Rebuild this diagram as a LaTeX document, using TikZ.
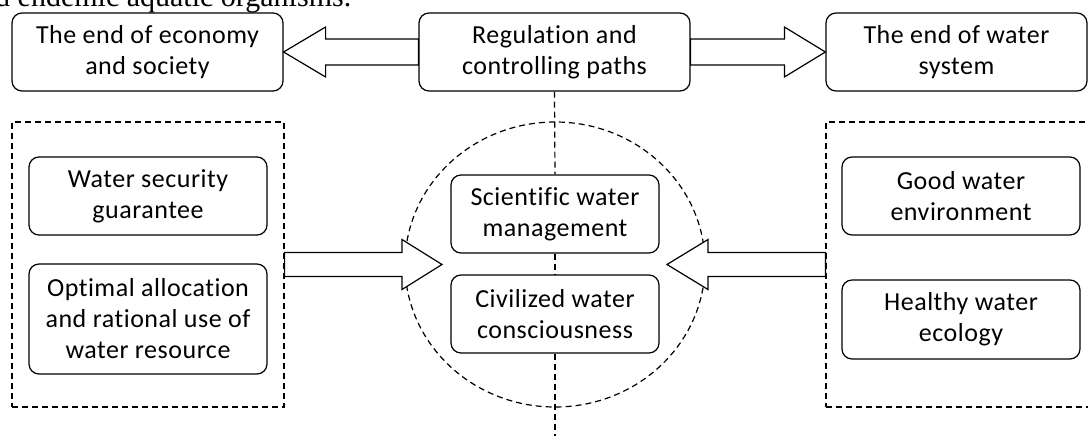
\documentclass[tikz,border=0pt]{standalone}
\usepackage{fontspec}
\setmainfont{Carlito}[Ligatures=NoCommon, LetterSpace=2]
\newfontfamily\docserif{Liberation Serif}
\usetikzlibrary{calc}
\begin{document}
\begin{tikzpicture}[x=1pt,y=-1pt,
  rbox/.style={draw, line width=1.2pt, rounded corners=10pt, align=center,
    inner sep=0pt, font=\fontsize{26}{31}\selectfont},
  dashline/.style={line width=1.2pt, dash pattern=on 6pt off 4pt},
  fat/.style={draw, line width=1.2pt, fill=white, line join=miter}]
\useasboundingbox (0,0) rectangle (1088,436);
\clip (0,0) rectangle (1088,436);
\fill[white] (0,0) rectangle (1088,436);

% clipped document text above the figure
\node[anchor=base west, inner sep=0pt, font=\docserif\fontsize{30}{34}\selectfont] (doctext) at (-5,7) {d endemic aquatic organisms.};

% top row
\node[rbox, minimum width=271pt, minimum height=78pt] (lbox) at (147.5,52) {The end of economy\\and society};
\node[rbox, minimum width=271pt, minimum height=78pt] (cbox) at (554.5,52) {Regulation and\\controlling paths};
\node[rbox, minimum width=261pt, minimum height=78pt] (rbox) at (956.5,52) {The end of water\\system};

% dashed groups
\node[draw, dashline, minimum width=272pt, minimum height=285pt, inner sep=0pt] (ldash) at (148,264.5) {};
\node[draw, dashline, minimum width=272pt, minimum height=285pt, inner sep=0pt] (rdash) at (962,264.5) {};

% dashed ellipse
\draw[dashline] (555,264.5) ellipse [x radius=150pt, y radius=142.5pt];

% left inner boxes
\node[rbox, minimum width=238pt, minimum height=78pt] (w1) at (148,196) {Water security\\guarantee};
\node[rbox, minimum width=238pt, minimum height=110pt] (w2) at (148,319) {Optimal allocation\\and rational use of\\water resource};

% right inner boxes
\node[rbox, minimum width=238pt, minimum height=78pt] (r1) at (961,196) {Good water\\environment};
\node[rbox, minimum width=238pt, minimum height=79pt] (r2) at (961,319.5) {Healthy water\\ecology};

% centre boxes
\node[rbox, minimum width=208pt, minimum height=78pt] (s1) at (555,214) {Scientific water\\management};
\node[rbox, minimum width=208pt, minimum height=78pt] (s2) at (555,314) {Civilized water\\consciousness};

% vertical dashed axis
\coordinate (axisend) at (555,440);
\draw[dashline] (cbox.south) -- (s1.north);
\draw[dashline] (s1.south) -- (s2.north);
\draw[dashline] (s2.south) -- (axisend);

% top fat arrows
\draw[fat] let \p1=(cbox.west), \p2=(lbox.east) in
  (\x1,\y1+13pt) -- (\x2+42pt,\y1+13pt) -- (\x2+42pt,\y1+25pt) -- (\x2,\y1)
  -- (\x2+42pt,\y1-25pt) -- (\x2+42pt,\y1-13pt) -- (\x1,\y1-13pt) -- cycle;
\draw[fat] let \p1=(cbox.east), \p2=(rbox.west) in
  (\x1,\y1+13pt) -- (\x2-41pt,\y1+13pt) -- (\x2-41pt,\y1+25pt) -- (\x2,\y1)
  -- (\x2-41pt,\y1-25pt) -- (\x2-41pt,\y1-13pt) -- (\x1,\y1-13pt) -- cycle;

% middle fat arrows
\coordinate (ltip) at (442,264.5);
\coordinate (rtip) at (667,264.5);
\draw[fat] let \p1=(ldash.east), \p2=(ltip) in
  (\x1,\y1+12pt) -- (\x2-40pt,\y1+12pt) -- (\x2-40pt,\y1+25pt) -- (\x2,\y1)
  -- (\x2-40pt,\y1-25pt) -- (\x2-40pt,\y1-12pt) -- (\x1,\y1-12pt) -- cycle;
\draw[fat] let \p1=(rdash.west), \p2=(rtip) in
  (\x1,\y1+12pt) -- (\x2+41pt,\y1+12pt) -- (\x2+41pt,\y1+25pt) -- (\x2,\y1)
  -- (\x2+41pt,\y1-25pt) -- (\x2+41pt,\y1-12pt) -- (\x1,\y1-12pt) -- cycle;
\end{tikzpicture}
\end{document}
